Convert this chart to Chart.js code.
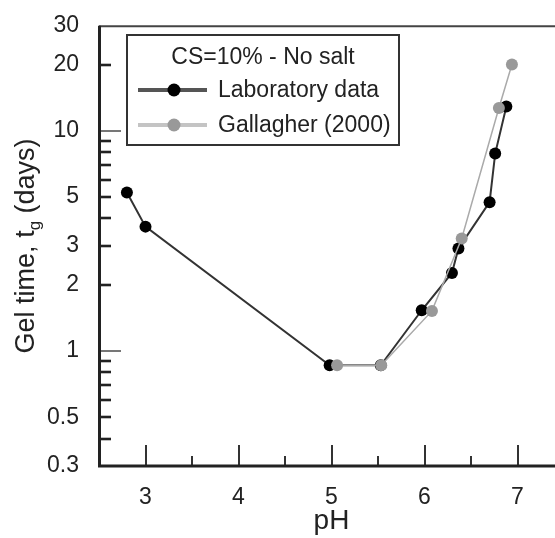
<!DOCTYPE html>
<html>
<head>
<meta charset="utf-8">
<script src="https://cdn.jsdelivr.net/npm/chart.js@4.4.1/dist/chart.umd.min.js"></script>
<style>
  html, body { margin: 0; padding: 0; background: #fff; overflow: hidden; width: 555px; height: 538px; }
  canvas { display: block; }
</style>
</head>
<body>
<canvas id="grafik" width="580" height="538"></canvas>
<script>
// values
const labPH = [2.80, 3.00, 4.98, 5.53, 5.97, 6.295, 6.365, 6.70, 6.76, 6.88];
const labDays = [5.25, 3.67, 0.86, 0.86, 1.53, 2.26, 2.92, 4.74, 7.88, 12.9];
const galPH = [5.06, 5.535, 6.08, 6.40, 6.80, 6.94];
const galDays = [0.86, 0.86, 1.52, 3.24, 12.7, 20.0];

const xTicks = [2.5, 3, 3.5, 4, 4.5, 5, 5.5, 6, 6.5, 7, 7.5];
const xLabels = [3, 4, 5, 6, 7];
const yTicks = [0.3, 0.4, 0.5, 0.6, 0.7, 0.8, 0.9, 1, 2, 3, 4, 5, 6, 7, 8, 9, 10, 20, 30];
const yLabels = [0.3, 0.5, 1, 2, 3, 5, 10, 20, 30];
const yMajor = [1, 10];

const FONT = '"Liberation Sans", Arial, Helvetica, sans-serif';

function pts(xs, ys) {
    return xs.map((x, i) => ({ x: x, y: ys[i] }));
}

// frame + inward tick marks
const frameTicks = {
    id: 'frameTicks',
    afterDatasetsDraw(chart) {
        const g = chart.ctx;
        const a = chart.chartArea;
        const sx = chart.scales.x, sy = chart.scales.y;
        g.save();
        for (const v of xTicks) {
            if (v <= 2.5 || v >= 7.5) continue;
            const px = Math.round(sx.getPixelForValue(v));
            const major = Number.isInteger(v);
            g.strokeStyle = '#333';
            g.lineWidth = 2;
            g.beginPath();
            g.moveTo(px, a.bottom);
            g.lineTo(px, a.bottom - (major ? 21 : 10));
            g.stroke();
        }
        for (const v of yTicks) {
            if (v <= 0.3 || v >= 30) continue;
            const py = Math.round(sy.getPixelForValue(v));
            const major = yMajor.includes(v);
            g.strokeStyle = major ? '#555' : '#222';
            g.lineWidth = major ? 1.6 : 2.6;
            g.beginPath();
            g.moveTo(a.left, py);
            g.lineTo(a.left + (major ? 22 : 12), py);
            g.stroke();
        }
        g.strokeStyle = '#444';
        g.lineWidth = 2;
        g.beginPath();
        g.moveTo(a.left, a.top + 0.5);
        g.lineTo(chart.width, a.top + 0.5);
        g.stroke();
        g.strokeStyle = '#222';
        g.lineWidth = 3;
        g.beginPath();
        g.moveTo(a.left + 0.5, a.top);
        g.lineTo(a.left + 0.5, a.bottom);
        g.lineTo(chart.width, a.bottom);
        g.stroke();
        g.restore();
    }
};

// y title with subscript g
const yTitle = {
    id: 'yTitle',
    afterDraw(chart) {
        const g = chart.ctx;
        const a = chart.chartArea;
        const big = '27px ' + FONT, small = '17px ' + FONT;
        const p1 = 'Gel time, t', p2 = 'g', p3 = ' (days)';
        g.save();
        g.fillStyle = '#222';
        g.font = big;
        const w1 = g.measureText(p1).width, w3 = g.measureText(p3).width;
        g.font = small;
        const w2 = g.measureText(p2).width;
        const total = w1 + w2 + w3;
        g.translate(34, (a.top + a.bottom) / 2);
        g.rotate(-Math.PI / 2);
        g.textBaseline = 'alphabetic';
        g.textAlign = 'left';
        let cx = -total / 2;
        g.font = big;
        g.fillText(p1, cx, 0);
        cx += w1;
        g.font = small;
        g.fillText(p2, cx, 6);
        cx += w2;
        g.font = big;
        g.fillText(p3, cx, 0);
        g.restore();
    }
};

// boxed legend inside the plot
const boxLegend = {
    id: 'boxLegend',
    afterDraw(chart) {
        const g = chart.ctx;
        const left = 127, top = 35, w = 272, h = 110;
        g.save();
        g.fillStyle = '#fff';
        g.fillRect(left, top, w, h);
        g.strokeStyle = '#333';
        g.lineWidth = 2;
        g.strokeRect(left, top, w, h);
        g.fillStyle = '#222';
        g.font = '23px ' + FONT;
        g.textBaseline = 'middle';
        g.textAlign = 'center';
        g.fillText('CS=10% - No salt', left + w / 2, 58);
        g.textAlign = 'left';
        const rows = [
            { y: 90, ds: chart.data.datasets[1] },
            { y: 125, ds: chart.data.datasets[0] }
        ];
        for (const r of rows) {
            g.strokeStyle = r.ds.legendLine;
            g.lineWidth = 4;
            g.beginPath();
            g.moveTo(138, r.y);
            g.lineTo(207, r.y);
            g.stroke();
            g.fillStyle = r.ds.pointBackgroundColor;
            g.beginPath();
            g.arc(174, r.y, 6.5, 0, Math.PI * 2);
            g.fill();
            g.fillStyle = '#222';
            g.fillText(r.ds.label, 218, r.y + 1);
        }
        g.restore();
    }
};

new Chart(document.getElementById('grafik'), {
    type: 'scatter',
    data: {
        datasets: [{
            label: 'Gallagher (2000)',
            data: pts(galPH, galDays),
            showLine: true,
            borderColor: '#aaa',
            borderWidth: 1.5,
            pointRadius: 6,
            pointBackgroundColor: '#999',
            pointBorderColor: '#999',
            pointBorderWidth: 0,
            legendLine: '#c4c4c4',
            order: 0
        }, {
            label: 'Laboratory data',
            data: pts(labPH, labDays),
            showLine: true,
            borderColor: '#333',
            borderWidth: 2,
            pointRadius: 6,
            pointBackgroundColor: '#000',
            pointBorderColor: '#000',
            pointBorderWidth: 0,
            legendLine: '#555',
            order: 1
        }]
    },
    options: {
        responsive: false,
        animation: false,
        devicePixelRatio: 1,
        layout: { padding: { top: 21, right: 16, left: 0, bottom: 0 } },
        plugins: {
            legend: { display: false },
            tooltip: { enabled: false }
        },
        scales: {
            x: {
                type: 'linear',
                min: 2.5,
                max: 7.5,
                grid: { display: false },
                border: { display: false },
                afterBuildTicks: s => { s.ticks = xTicks.map(v => ({ value: v })); },
                afterFit: s => { s.height = 72; },
                ticks: {
                    autoSkip: false,
                    maxRotation: 0,
                    padding: 10,
                    color: '#222',
                    font: { family: FONT, size: 23 },
                    callback: v => xLabels.includes(v) ? String(v) : ''
                },
                title: {
                    display: true,
                    text: 'pH',
                    color: '#222',
                    padding: { top: 0, bottom: 0 },
                    font: { family: FONT, size: 28 }
                }
            },
            y: {
                type: 'logarithmic',
                min: 0.3,
                max: 30,
                grid: { display: false },
                border: { display: false },
                afterBuildTicks: s => { s.ticks = yTicks.map(v => ({ value: v })); },
                afterFit: s => { s.width = 99; },
                ticks: {
                    autoSkip: false,
                    padding: 12,
                    color: '#222',
                    font: { family: FONT, size: 23 },
                    callback: v => yLabels.includes(v) ? String(v) : ''
                }
            }
        }
    },
    plugins: [frameTicks, boxLegend, yTitle]
});
</script>
</body>
</html>
